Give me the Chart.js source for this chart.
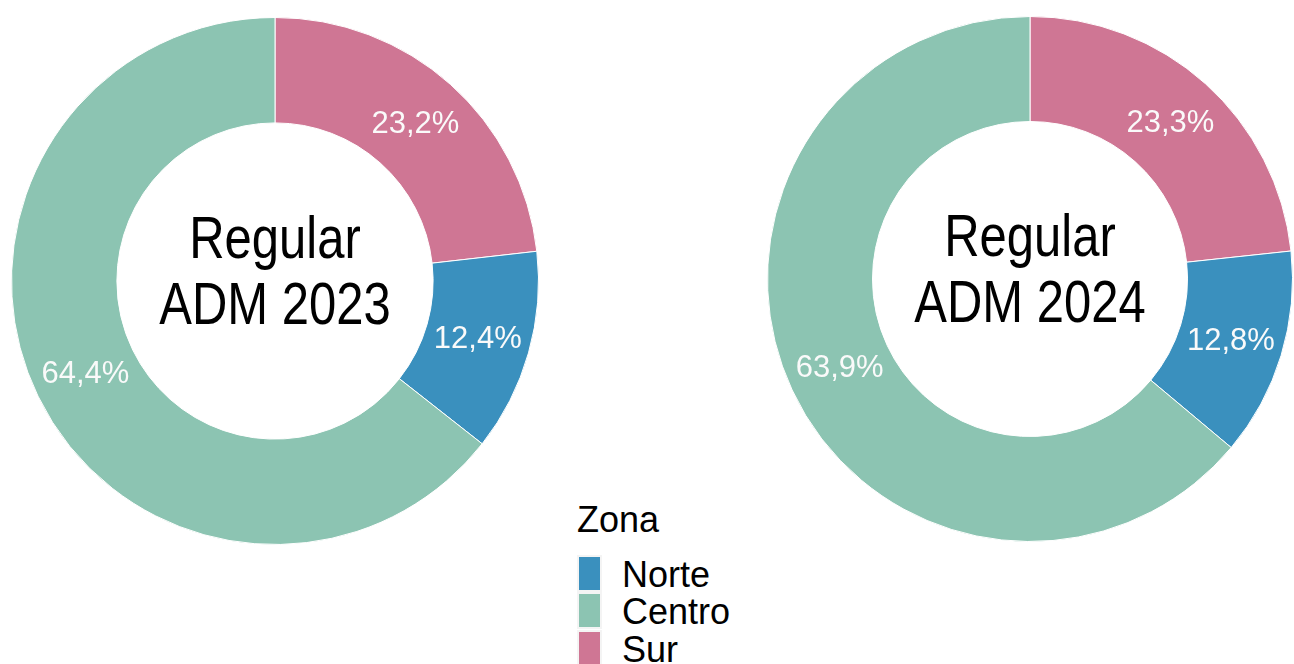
<!DOCTYPE html>
<html>
<head>
<meta charset="utf-8">
<script src="https://cdn.jsdelivr.net/npm/chart.js@4.4.1/dist/chart.umd.min.js"></script>
<style>
  body { margin: 0; background: #fff; }
  #wrap { position: relative; width: 1294px; height: 664px; overflow: hidden; font-family: "Liberation Sans", Arial, sans-serif; }
  canvas { position: absolute; }
  #c2023 { left: 11px; top: 17px; }
  #c2024 { left: 767px; top: 16px; }
  .leg { position: absolute; font-size: 36px; line-height: 36px; color: #000; white-space: nowrap; }
  .key { position: absolute; left: 579px; width: 21px; height: 33px; }
</style>
</head>
<body>
<div id="wrap">
  <canvas id="c2023" width="528" height="528"></canvas>
  <canvas id="c2024" width="526" height="526"></canvas>
  <div id="legend"></div>
</div>
<script>
// zonas en el orden de la leyenda
var zonas = ['Norte', 'Centro', 'Sur'];
var valores2023 = [12.4, 64.4, 23.2];
var valores2024 = [12.8, 63.9, 23.3];
var titulos = ['Regular\nADM 2023', 'Regular\nADM 2024'];
var colores = ['#3A90BE', '#8CC4B2', '#CF7694'];

// orden de las porciones en el anillo (sentido horario desde arriba)
var ordenAnillo = [2, 0, 1];

function fmt(v) {
  return v.toFixed(1).replace('.', ',') + '%';
}

var etiquetas = {
  id: 'etiquetas',
  afterDatasetsDraw: function(chart) {
    var ctx = chart.ctx;
    var meta = chart.getDatasetMeta(0);
    var ds = chart.data.datasets[0];
    ctx.save();
    ctx.fillStyle = '#FAFAFA';
    ctx.font = '31px "Liberation Sans", Arial, sans-serif';
    ctx.textAlign = 'center';
    ctx.textBaseline = 'middle';
    meta.data.forEach(function(arc, i) {
      var p = arc.getProps(['x', 'y', 'startAngle', 'endAngle', 'innerRadius', 'outerRadius'], true);
      var a = (p.startAngle + p.endAngle) / 2;
      var r = (p.innerRadius + p.outerRadius) / 2;
      ctx.fillText(fmt(ds.data[i]), p.x + r * Math.cos(a), p.y + r * Math.sin(a) + 1);
    });
    ctx.restore();
  }
};

var centro = {
  id: 'centro',
  afterDraw: function(chart) {
    var ctx = chart.ctx;
    var a = chart.chartArea;
    var cx = (a.left + a.right) / 2;
    var cy = (a.top + a.bottom) / 2;
    var lineas = chart.options.plugins.centro.texto.split('\n');
    ctx.save();
    ctx.fillStyle = '#000';
    ctx.font = '59px "Liberation Sans", Arial, sans-serif';
    ctx.textAlign = 'center';
    ctx.textBaseline = 'alphabetic';
    var off = [-23, 43];
    lineas.forEach(function(t, i) {
      ctx.save();
      ctx.translate(cx, cy + off[i]);
      ctx.scale(0.83, 1);
      ctx.fillText(t, 0, 0);
      ctx.restore();
    });
    ctx.restore();
  }
};

function dona(id, valores, titulo) {
  new Chart(document.getElementById(id), {
    type: 'doughnut',
    data: {
      labels: ordenAnillo.map(function(i) { return zonas[i]; }),
      datasets: [{
        data: ordenAnillo.map(function(i) { return valores[i]; }),
        backgroundColor: ordenAnillo.map(function(i) { return colores[i]; }),
        borderColor: '#fff',
        borderWidth: 1,
        hoverOffset: 0
      }]
    },
    options: {
      responsive: false,
      animation: false,
      devicePixelRatio: 1,
      cutout: '60%',
      layout: { padding: 0 },
      plugins: {
        legend: { display: false },
        tooltip: { enabled: false },
        centro: { texto: titulo }
      }
    },
    plugins: [etiquetas, centro]
  });
}

dona('c2023', valores2023, titulos[0]);
dona('c2024', valores2024, titulos[1]);

// leyenda
var leg = document.getElementById('legend');
var t = document.createElement('div');
t.className = 'leg';
t.style.left = '577px';
t.style.top = '502px';
t.textContent = 'Zona';
leg.appendChild(t);
var tops = [557, 594, 632];
zonas.forEach(function(z, i) {
  var k = document.createElement('div');
  k.className = 'key';
  k.style.top = tops[i] + 'px';
  k.style.background = colores[i];
  k.style.boxShadow = '0 0 0 2px #F4F4F4';
  leg.appendChild(k);
  var l = document.createElement('div');
  l.className = 'leg';
  l.style.left = '622px';
  l.style.top = (tops[i] - 0.5) + 'px';
  l.textContent = z;
  leg.appendChild(l);
});
</script>
</body>
</html>
